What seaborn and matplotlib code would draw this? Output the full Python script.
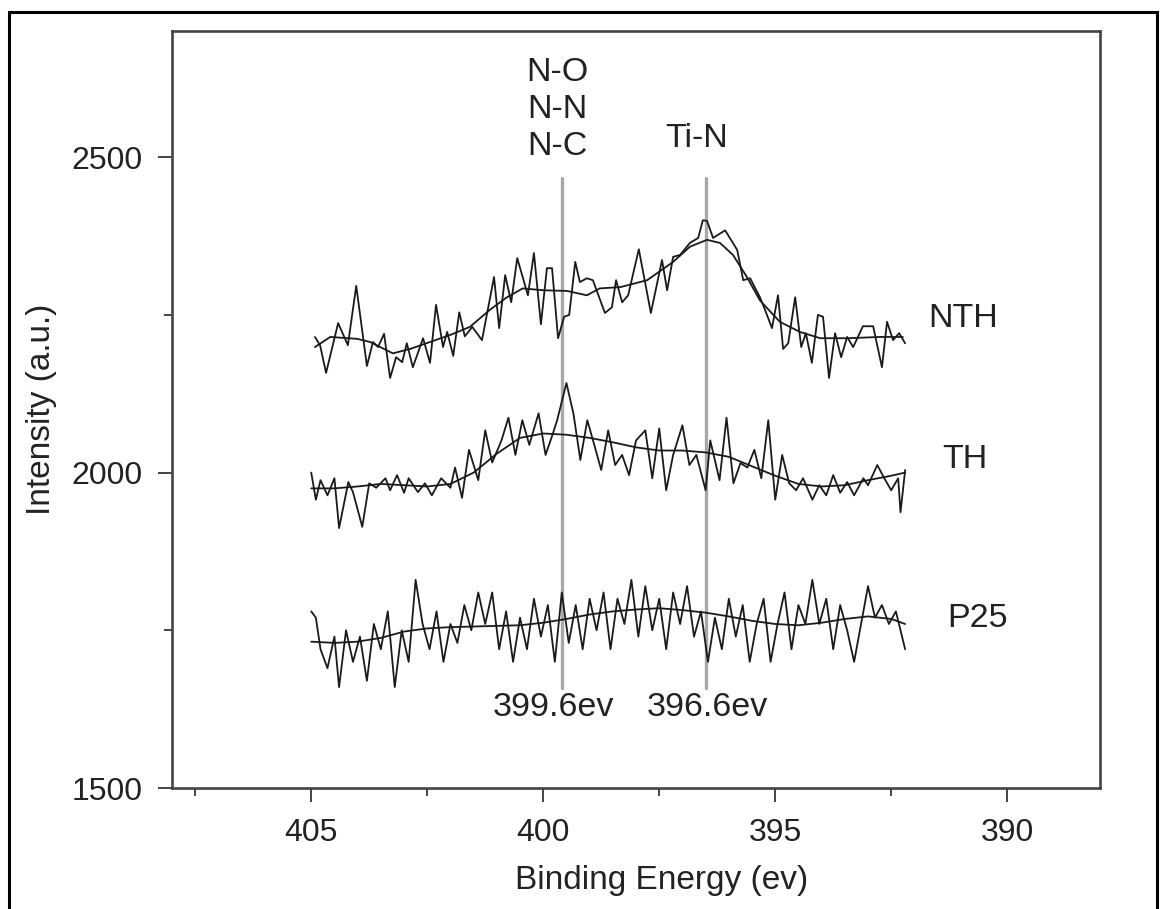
import numpy as np
import pandas as pd
import matplotlib
matplotlib.use("Agg")
import matplotlib.pyplot as plt
import seaborn as sns
from matplotlib.patches import Rectangle

# ========== Data ==========
nth_x = [404.92, 404.81, 404.68, 404.42, 404.21, 404.03, 403.80, 403.67, 403.56, 403.43,
         403.30, 403.17, 403.04, 402.94, 402.81, 402.59, 402.44, 402.31, 402.16, 402.07,
         401.94, 401.81, 401.69, 401.53, 401.32, 401.06, 400.95, 400.82, 400.69, 400.56,
         400.33, 400.20, 400.05, 399.92, 399.81, 399.68, 399.55, 399.44, 399.31, 399.21,
         399.06, 398.93, 398.67, 398.52, 398.43, 398.30, 398.17, 397.94, 397.68, 397.44,
         397.33, 397.20, 397.05, 396.84, 396.66, 396.56, 396.47, 396.34, 396.08, 395.82,
         395.69, 395.54, 395.33, 395.22, 395.07, 394.94, 394.83, 394.72, 394.57, 394.44,
         394.34, 394.21, 394.08, 393.97, 393.84, 393.71, 393.58, 393.45, 393.32, 393.11,
         392.89, 392.70, 392.59, 392.46, 392.33, 392.20]
nth_y = [2215, 2202, 2158, 2237, 2202, 2296, 2169, 2207, 2199, 2220,
         2150, 2183, 2175, 2205, 2167, 2213, 2174, 2266, 2199, 2223,
         2185, 2254, 2216, 2231, 2210, 2310, 2229, 2313, 2270, 2340,
         2281, 2348, 2235, 2324, 2324, 2213, 2247, 2250, 2334, 2302,
         2308, 2305, 2253, 2262, 2305, 2270, 2281, 2354, 2253, 2337,
         2289, 2342, 2345, 2364, 2372, 2400, 2399, 2372, 2384, 2353,
         2305, 2308, 2278, 2258, 2229, 2281, 2196, 2205, 2278, 2199,
         2221, 2174, 2250, 2247, 2150, 2221, 2183, 2215, 2199, 2232,
         2232, 2167, 2239, 2210, 2221, 2205]

nth_fit_x = [404.92, 404.59, 404.01, 403.73, 403.24, 402.87, 402.44, 402.01, 401.58, 401.15,
             400.78, 400.44, 400.00, 399.49, 399.06, 398.78, 398.34, 397.76, 397.20, 396.84,
             396.47, 396.19, 395.91, 395.61, 395.33, 394.90, 394.47, 394.03, 393.45, 392.74,
             392.25]
nth_fit_y = [2199, 2215, 2212, 2207, 2189, 2196, 2207, 2218, 2231, 2258,
             2278, 2292, 2289, 2288, 2281, 2292, 2294, 2305, 2334, 2358,
             2369, 2364, 2345, 2310, 2273, 2239, 2223, 2213, 2213, 2215,
             2215]

th_x = [405.0, 404.9, 404.8, 404.65, 404.5, 404.4, 404.2, 404.1, 403.9, 403.75,
        403.6, 403.4, 403.3, 403.15, 403.0, 402.9, 402.7, 402.55, 402.4, 402.2,
        402.0, 401.9, 401.75, 401.6, 401.4, 401.25, 401.1, 400.9, 400.75, 400.6,
        400.45, 400.3, 400.1, 399.95, 399.8, 399.7, 399.5, 399.35, 399.2, 399.05,
        398.9, 398.75, 398.6, 398.45, 398.3, 398.15, 398.0, 397.8, 397.65, 397.5,
        397.35, 397.2, 397.0, 396.85, 396.7, 396.5, 396.4, 396.2, 396.05, 395.9,
        395.75, 395.6, 395.45, 395.3, 395.15, 395.0, 394.85, 394.7, 394.55, 394.4,
        394.2, 394.05, 393.9, 393.75, 393.6, 393.45, 393.3, 393.1, 393.0, 392.8,
        392.65, 392.5, 392.35, 392.3, 392.2]
th_y = [2000, 1957, 1988, 1964, 1991, 1912, 1985, 1969, 1914, 1983,
        1976, 1991, 1972, 1996, 1968, 1991, 1969, 1983, 1964, 1991,
        1976, 2008, 1960, 2036, 1988, 2067, 2016, 2051, 2087, 2028,
        2083, 2044, 2094, 2028, 2060, 2083, 2142, 2094, 2020, 2083,
        2044, 2004, 2067, 2012, 2028, 1996, 2051, 2067, 1991, 2070,
        1972, 2028, 2075, 2012, 2028, 1972, 2051, 1988, 2087, 1983,
        2015, 2008, 2036, 1991, 2083, 1957, 2028, 1983, 1972, 1991,
        1957, 1980, 1964, 1996, 1968, 1985, 1964, 1991, 1980, 2012,
        1991, 1972, 1991, 1937, 2004]

th_fit_x = [405.0, 404.5, 404.0, 403.5, 403.0, 402.5, 402.0, 401.5, 401.0, 400.5,
            400.0, 399.5, 399.0, 398.5, 398.0, 397.5, 397.0, 396.5, 396.0, 395.5,
            395.0, 394.5, 394.0, 393.5, 393.0, 392.5, 392.2]
th_fit_y = [1975, 1975, 1978, 1982, 1980, 1978, 1982, 2000, 2030, 2055,
            2062, 2060, 2055, 2048, 2040, 2035, 2035, 2032, 2025, 2010,
            1995, 1982, 1978, 1980, 1988, 1995, 2000]

p25_x = [405.0, 404.9, 404.8, 404.65, 404.5, 404.4, 404.25, 404.1, 403.95, 403.8,
         403.65, 403.5, 403.35, 403.2, 403.05, 402.9, 402.75, 402.6, 402.45, 402.3,
         402.15, 402.0, 401.85, 401.7, 401.55, 401.4, 401.25, 401.1, 400.95, 400.8,
         400.65, 400.5, 400.35, 400.2, 400.05, 399.9, 399.75, 399.6, 399.45, 399.3,
         399.15, 399.0, 398.85, 398.7, 398.55, 398.4, 398.25, 398.1, 397.95, 397.8,
         397.65, 397.5, 397.35, 397.2, 397.05, 396.9, 396.75, 396.6, 396.45, 396.3,
         396.15, 396.0, 395.85, 395.7, 395.55, 395.4, 395.25, 395.1, 394.95, 394.8,
         394.65, 394.5, 394.35, 394.2, 394.05, 393.9, 393.75, 393.6, 393.45, 393.3,
         393.15, 393.0, 392.85, 392.7, 392.55, 392.4, 392.3, 392.2]
p25_y = [1780, 1770, 1720, 1690, 1740, 1660, 1750, 1700, 1740, 1670,
         1760, 1720, 1780, 1660, 1750, 1700, 1830, 1760, 1720, 1780,
         1700, 1760, 1730, 1790, 1750, 1810, 1760, 1810, 1720, 1780,
         1700, 1770, 1720, 1800, 1740, 1790, 1700, 1810, 1730, 1790,
         1720, 1800, 1750, 1810, 1720, 1800, 1760, 1830, 1740, 1820,
         1750, 1800, 1720, 1810, 1760, 1820, 1740, 1780, 1700, 1770,
         1720, 1800, 1740, 1790, 1700, 1760, 1800, 1700, 1760, 1810,
         1720, 1790, 1760, 1830, 1760, 1800, 1720, 1790, 1750, 1700,
         1760, 1820, 1770, 1790, 1760, 1780, 1750, 1720]

p25_fit_x = [405.0, 404.5, 404.0, 403.5, 403.0, 402.5, 402.0, 401.5, 401.0, 400.5,
             400.0, 399.5, 399.0, 398.5, 398.0, 397.5, 397.0, 396.5, 396.0, 395.5,
             395.0, 394.5, 394.0, 393.5, 393.0, 392.5, 392.2]
p25_fit_y = [1732, 1730, 1732, 1738, 1748, 1753, 1755, 1756, 1757, 1758,
             1762, 1768, 1775, 1780, 1783, 1785, 1782, 1778, 1772, 1765,
             1760, 1758, 1762, 1768, 1772, 1768, 1760]

series_names = ["NTH", "TH", "P25"]
label_x = [391.7, 391.4, 391.3]
label_y = [2245, 2021, 1769]

peak_pos = [399.6, 396.5]
peak_text = ["399.6ev", "396.6ev"]
peak_text_x = [399.78, 396.47]
bond_text = ["N-O\nN-N\nN-C", "Ti-N"]
bond_x = [399.7, 396.69]
bond_y = [2575, 2530]

# ========== Style ==========
sns.set_theme(style="ticks")
plt.rcParams["font.family"] = ["Liberation Sans", "DejaVu Sans"]
axis_color = "#444444"
text_color = "#222222"

fig = plt.figure(figsize=(11.6, 9.09), dpi=100)
ax = fig.add_axes([0.1483, 0.1331, 0.8, 0.8328])

raw = [(nth_x, nth_y), (th_x, th_y), (p25_x, p25_y)]
fits = [(nth_fit_x, nth_fit_y), (th_fit_x, th_fit_y), (p25_fit_x, p25_fit_y)]

for (rx, ry), (fx, fy) in zip(raw, fits):
    df_raw = pd.DataFrame({"energy": rx, "intensity": ry})
    df_fit = pd.DataFrame({"energy": fx, "intensity": fy})
    sns.lineplot(data=df_raw, x="energy", y="intensity", ax=ax, sort=False,
                 estimator=None, color="#1a1a1a", lw=1.3)
    sns.lineplot(data=df_fit, x="energy", y="intensity", ax=ax, sort=False,
                 estimator=None, color="#1a1a1a", lw=1.3)

# peak marker lines
for xp in peak_pos:
    ax.plot([xp, xp], [1658, 2467], color="#a8a8a8", lw=2.4, zorder=0)

for tx, txt in zip(peak_text_x, peak_text):
    ax.text(tx, 1652, txt, ha="center", va="top", fontsize=24.5, color=text_color)
for bx, by, txt in zip(bond_x, bond_y, bond_text):
    ax.text(bx, by, txt, ha="center", va="center", fontsize=24.5,
            color=text_color, linespacing=1.25)

for name, lx, ly in zip(series_names, label_x, label_y):
    ax.text(lx, ly, name, ha="left", va="center", fontsize=24.5, color=text_color)

ax.set_xlim(408, 388)
ax.set_ylim(1500, 2700)
ax.set_xticks([405, 400, 395, 390])
ax.set_xticks([407.5, 402.5, 397.5, 392.5], minor=True)
ax.set_yticks([1500, 2000, 2500])
ax.set_yticks([1750, 2250], minor=True)

ax.set_xlabel("Binding Energy (ev)", fontsize=24, color=text_color)
ax.set_ylabel("Intensity (a.u.)", fontsize=24, color=text_color)
ax.xaxis.set_label_coords(0.528, -0.102)
ax.yaxis.set_label_coords(-0.124, 0.5)

for sp in ax.spines.values():
    sp.set_color(axis_color)
    sp.set_linewidth(1.9)
ax.tick_params(axis="both", which="major", length=10.4, width=1.4, color=axis_color,
               labelsize=23, labelcolor=text_color, pad=11)
ax.tick_params(axis="both", which="minor", length=5.5, width=1.4, color=axis_color)

# black frame around the whole picture
fig.add_artist(Rectangle((0.0078, -0.02), 0.9897, 1.0068, transform=fig.transFigure,
                         fill=False, ec="black", lw=2.2))

fig.savefig("out.png", dpi=100)
